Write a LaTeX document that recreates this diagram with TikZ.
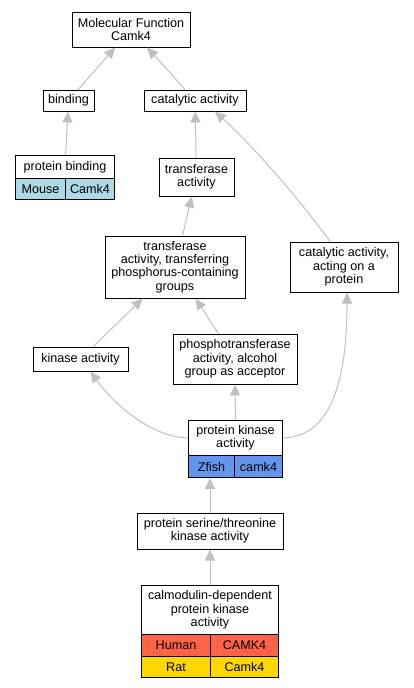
\documentclass[tikz,border=0pt]{standalone}
\usepackage{fontspec}
\setmainfont{Liberation Sans}
\usetikzlibrary{arrows.meta}
\definecolor{mouse}{HTML}{ADD8E6}
\definecolor{zfish}{HTML}{6495ED}
\definecolor{human}{HTML}{FF6347}
\definecolor{rat}{HTML}{FFD700}
\definecolor{isagray}{HTML}{C0C0C0}
\begin{document}
\begin{tikzpicture}[x=1pt,y=-1pt]
  \tikzstyle{every node}=[font=\fontsize{12.6}{13.4}\selectfont]
  \tikzstyle{term}=[draw,line width=1pt,align=center,inner sep=0pt,fill=white]
  \tikzstyle{cell}=[draw,line width=1pt,inner sep=0pt,anchor=north west]
  \tikzstyle{isa}=[draw=isagray,line width=1pt,-{Triangle[length=11pt,width=10pt,fill=isagray]}]
  \useasboundingbox (0,0) rectangle (413,688);
  % terms
  \node[term,minimum width=118,minimum height=35] (mf) at (131,29.5) {Molecular Function\\Camk4};
  \node[term,minimum width=51,minimum height=21] (bind) at (68.5,100.5) {binding};
  \node[term,minimum width=102,minimum height=21] (cat) at (195,100.5) {catalytic activity};
  \node[term,minimum width=99,minimum height=23,anchor=north west] (pb) at (15,155) {protein binding};
  \node[cell,fill=mouse,minimum width=50,minimum height=21] (pbm) at (15,178) {Mouse};
  \node[cell,fill=mouse,minimum width=49,minimum height=21] (pbc) at (65,178) {Camk4};
  \node[term,minimum width=75,minimum height=38] (tra) at (196.5,177) {transferase\\activity};
  \node[term,minimum width=140,minimum height=62] (phg) at (175,267) {transferase\\activity, transferring\\phosphorus-containing\\groups};
  \node[term,minimum width=108,minimum height=50] (act) at (344,267) {catalytic activity,\\acting on a\\protein};
  \node[term,minimum width=95,minimum height=24] (kin) at (80.5,359) {kinase activity};
  \node[term,minimum width=124,minimum height=50] (alc) at (235,359) {phosphotransferase\\activity, alcohol\\group as acceptor};
  \node[term,minimum width=94,minimum height=35,anchor=north west] (pk) at (188,420) {protein kinase\\activity};
  \node[cell,fill=zfish,minimum width=46,minimum height=22] (pkz) at (188,455) {Zfish};
  \node[cell,fill=zfish,minimum width=48,minimum height=22] (pkc) at (234,455) {camk4};
  \node[term,minimum width=146,minimum height=36] (ser) at (210,531) {protein serine/threonine\\kinase activity};
  \node[term,minimum width=137,minimum height=49,anchor=north west] (cal) at (141,585) {calmodulin-dependent\\protein kinase\\activity};
  \node[cell,fill=human,minimum width=69,minimum height=22] (calh) at (141,634) {Human};
  \node[cell,fill=human,minimum width=68,minimum height=22] (calhg) at (210,634) {CAMK4};
  \node[cell,fill=rat,minimum width=69,minimum height=21] (calr) at (141,656) {Rat};
  \node[cell,fill=rat,minimum width=68,minimum height=21] (calrg) at (210,656) {Camk4};
  % is_a edges
  \draw[isa] (bind) -- (mf);
  \draw[isa] (cat) -- (mf);
  \draw[isa] (pb) -- (bind);
  \draw[isa] (tra) -- (cat);
  \draw[isa] ([xshift=-14pt]act.north) .. controls (300,200) and (255,148) .. ([xshift=20pt]cat.south);
  \draw[isa] (phg) -- (tra);
  \draw[isa] (kin) -- (phg);
  \draw[isa] (alc) -- (phg);
  \draw[isa] (pk.west) .. controls (150,437) and (112,402) .. ([xshift=10pt]kin.south);
  \draw[isa] (pk.north) -- (alc.south);
  \draw[isa] (pk.east) .. controls (322,437) and (347,400) .. ([xshift=3pt]act.south);
  \draw[isa] (ser.north) -- (ser.north |- pkz.south);
  \draw[isa] (cal.north) -- (ser.south);
\end{tikzpicture}
\end{document}
